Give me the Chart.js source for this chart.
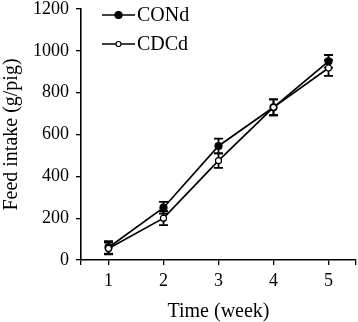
<!DOCTYPE html>
<html>
<head>
<meta charset="utf-8">
<script src="https://cdn.jsdelivr.net/npm/chart.js@4.4.0/dist/chart.umd.min.js"></script>
<style>
html,body{margin:0;padding:0;background:#fff;}
#c{display:block;}
</style>
</head>
<body>
<canvas id="c" width="358" height="322"></canvas>
<script>
const weeks = [1, 2, 3, 4, 5];
const condMean = [60, 250, 545, 730, 950];
const condErr = [30, 28, 35, 38, 30];
const cdcdMean = [55, 200, 475, 730, 918];
const cdcdErr = [28, 33, 35, 38, 38];
const yTicks = [0, 200, 400, 600, 800, 1000, 1200];
const xTicks = [0.5, 1, 2, 3, 4, 5, 5.5];
const seriesNames = ['CONd', 'CDCd'];

const FONT = "'Liberation Serif', 'DejaVu Serif', serif";

const errorBarPlugin = {
  id: 'errbars',
  afterDatasetsDraw(chart) {
    const ctx = chart.ctx;
    const xs = chart.scales.x, ys = chart.scales.y;
    const sets = [[condMean, condErr], [cdcdMean, cdcdErr]];
    ctx.save();
    ctx.strokeStyle = '#000';
    ctx.lineWidth = 1.8;
    sets.forEach(([m, e]) => {
      weeks.forEach((w, i) => {
        const x = xs.getPixelForValue(w);
        const yt = ys.getPixelForValue(m[i] + e[i]);
        const yb = ys.getPixelForValue(m[i] - e[i]);
        ctx.beginPath();
        ctx.moveTo(x, yt); ctx.lineTo(x, yb);
        ctx.moveTo(x - 4.5, yt); ctx.lineTo(x + 4.5, yt);
        ctx.moveTo(x - 4.5, yb); ctx.lineTo(x + 4.5, yb);
        ctx.stroke();
      });
    });
    chart.data.datasets.forEach((ds, di) => {
      const meta = chart.getDatasetMeta(di);
      meta.data.forEach(pt => {
        ctx.beginPath();
        ctx.arc(pt.x, pt.y, di === 0 ? 3.5 : 3, 0, Math.PI * 2);
        ctx.fillStyle = di === 0 ? '#000' : '#fff';
        ctx.fill();
        ctx.lineWidth = 1.2;
        ctx.strokeStyle = '#000';
        ctx.stroke();
      });
    });
    ctx.restore();
  }
};

const legendPlugin = {
  id: 'customLegend',
  afterDraw(chart) {
    const ctx = chart.ctx;
    ctx.save();
    const rows = [15, 44];
    seriesNames.forEach((name, i) => {
      const y = rows[i];
      ctx.strokeStyle = '#000';
      ctx.lineWidth = 1.5;
      ctx.beginPath();
      ctx.moveTo(102, y); ctx.lineTo(135, y);
      ctx.stroke();
      ctx.beginPath();
      ctx.arc(118.5, y, i === 0 ? 3.5 : 2.5, 0, Math.PI * 2);
      ctx.fillStyle = i === 0 ? '#000' : '#fff';
      ctx.fill();
      ctx.lineWidth = 1.2;
      ctx.stroke();
      ctx.fillStyle = '#000';
      ctx.font = "20px " + FONT;
      ctx.textAlign = 'left';
      ctx.textBaseline = 'middle';
      ctx.fillText(name, 137, y + 1);
    });
    ctx.restore();
  }
};

new Chart(document.getElementById('c'), {
  type: 'line',
  data: {
    datasets: [
      {
        label: seriesNames[0],
        data: weeks.map((w, i) => ({x: w, y: condMean[i]})),
        borderColor: '#000', borderWidth: 1.7,
        pointRadius: 0, fill: false, tension: 0
      },
      {
        label: seriesNames[1],
        data: weeks.map((w, i) => ({x: w, y: cdcdMean[i]})),
        borderColor: '#000', borderWidth: 1.7,
        pointRadius: 0, fill: false, tension: 0
      }
    ]
  },
  options: {
    responsive: false,
    animation: false,
    devicePixelRatio: 1,
    layout: {padding: {top: 9, right: 2, left: 0, bottom: 0}},
    plugins: {legend: {display: false}, tooltip: {enabled: false}},
    scales: {
      x: {
        type: 'linear', min: 0.5, max: 5.5,
        afterBuildTicks(s) { s.ticks = xTicks.map(v => ({value: v})); },
        afterFit(s) { s.height = 62; s.paddingLeft = 0; s.paddingRight = 0; },
        grid: {display: true, drawOnChartArea: false, drawTicks: true, tickLength: 5, color: '#000', lineWidth: 1.3},
        border: {display: true, color: '#000', width: 1.6},
        ticks: {
          color: '#000', font: {family: FONT, size: 18}, padding: 5,
          maxRotation: 0, autoSkip: false,
          callback: v => Number.isInteger(v) ? String(v) : ''
        },
        title: {display: true, text: 'Time (week)', color: '#000', font: {family: FONT, size: 20}, padding: {top: 0, bottom: -2}}
      },
      y: {
        type: 'linear', min: 0, max: 1200,
        afterBuildTicks(s) { s.ticks = yTicks.map(v => ({value: v})); },
        afterFit(s) { s.width = 81; s.paddingTop = 0; s.paddingBottom = 0; },
        grid: {display: true, drawOnChartArea: false, drawTicks: true, tickLength: 5, color: '#000', lineWidth: 1.3},
        border: {display: true, color: '#000', width: 1.6},
        ticks: {color: '#000', font: {family: FONT, size: 18}, padding: 7, callback: v => String(v)},
        title: {display: true, text: 'Feed intake (g/pig)', color: '#000', font: {family: FONT, size: 20}, padding: {top: 0, bottom: 0}}
      }
    }
  },
  plugins: [errorBarPlugin, legendPlugin]
});
</script>
</body>
</html>
